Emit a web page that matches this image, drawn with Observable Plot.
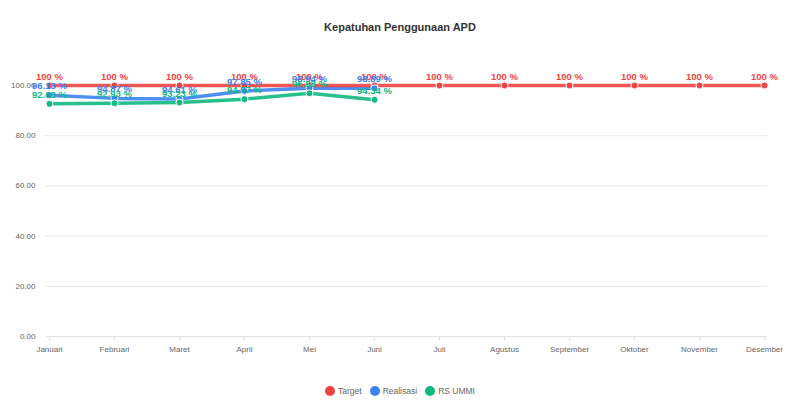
<!DOCTYPE html>
<html>
<head>
<meta charset="utf-8">
<script src="https://cdn.jsdelivr.net/npm/d3@7"></script>
<script src="https://cdn.jsdelivr.net/npm/@observablehq/plot@0.6"></script>
<style>
  body { margin: 0; background: #fff; font-family: "Liberation Sans", Arial, sans-serif; }
  #wrap { width: 800px; height: 400px; overflow: hidden; }
  #title { height: 45px; box-sizing: border-box; padding-top: 20px; line-height: 14px; font-size: 11px; font-weight: bold; color: #333; text-align: center; }
  #legend { height: 35px; box-sizing: border-box; padding-top: 20px; line-height: 12px; font-size: 8.5px; color: #666; text-align: center; }
  #legend span.item { display: inline-flex; align-items: center; margin: 0 4px; }
  #legend span.sw { display: inline-block; width: 10px; height: 10px; border-radius: 50%; margin-right: 3px; }
  svg { display: block; }
</style>
</head>
<body>
<div id="wrap">
  <div id="title">Kepatuhan Penggunaan APD</div>
  <div id="chart"></div>
  <div id="legend"></div>
</div>
<script>
const months = ["Januari","Februari","Maret","April","Mei","Juni","Juli","Agustus","September","Oktober","November","Desember"];
const seriesNames = ["Target","Realisasi","RS UMMI"];
const seriesColors = ["#ef4444","#3b82f6","#10b981"];
const target = [100,100,100,100,100,100,100,100,100,100,100,100];
const realisasi = [96.15, 94.87, 94.61, 97.85, 98.94, 98.89];
const rsUmmi = [92.68, 92.93, 93.23, 94.57, 96.88, 94.34];
const yTicks = [0,20,40,60,80,100];

const data = [];
[target, realisasi, rsUmmi].forEach((arr, si) => {
  arr.forEach((v, i) => data.push({month: months[i], value: v, series: seriesNames[si]}));
});

const color = {domain: seriesNames, range: seriesColors};

const plot = Plot.plot({
  width: 800,
  height: 320,
  marginTop: 40,
  marginBottom: 29,
  marginLeft: 45,
  marginRight: 33,
  style: {fontFamily: "Liberation Sans, Arial, sans-serif", fontSize: "8px", color: "#666", background: "#fff"},
  x: {type: "point", domain: months, padding: 0, label: null},
  y: {domain: [0, 100], label: null},
  color,
  marks: [
    Plot.gridY(yTicks, {stroke: "#e6e6e6", strokeOpacity: 1, strokeWidth: 1}),
    Plot.ruleY([0], {stroke: "#e0e0e0"}),
    Plot.axisY(yTicks, {tickFormat: d3.format(".2f"), tickSize: 0, tickPadding: 10, fill: "#666", fontSize: 8}),
    Plot.axisX({tickSize: 4, tickPadding: 6, fill: "#666", stroke: "#e0e0e0", fontSize: 8}),
    Plot.line(data.filter(d => d.series !== "Target"), {x: "month", y: "value", stroke: "series", z: "series", strokeWidth: 3.5, strokeOpacity: 0.9}),
    Plot.line(data.filter(d => d.series === "Target"), {x: "month", y: "value", stroke: "series", strokeWidth: 3.5, strokeOpacity: 0.9}),
    Plot.dot(data, {x: "month", y: "value", fill: "series", stroke: "#fff", strokeWidth: 1, r: 3.5}),
    Plot.text(data, {x: "month", y: "value", text: d => `${d.value} %`, fill: "series", dy: -9, fontSize: 9.5, fontWeight: "bold"})
  ]
});
document.getElementById("chart").appendChild(plot);

const legend = document.getElementById("legend");
seriesNames.forEach((n, i) => {
  const item = document.createElement("span");
  item.className = "item";
  const sw = document.createElement("span");
  sw.className = "sw";
  sw.style.background = seriesColors[i];
  item.appendChild(sw);
  item.appendChild(document.createTextNode(n));
  legend.appendChild(item);
});
</script>
</body>
</html>
